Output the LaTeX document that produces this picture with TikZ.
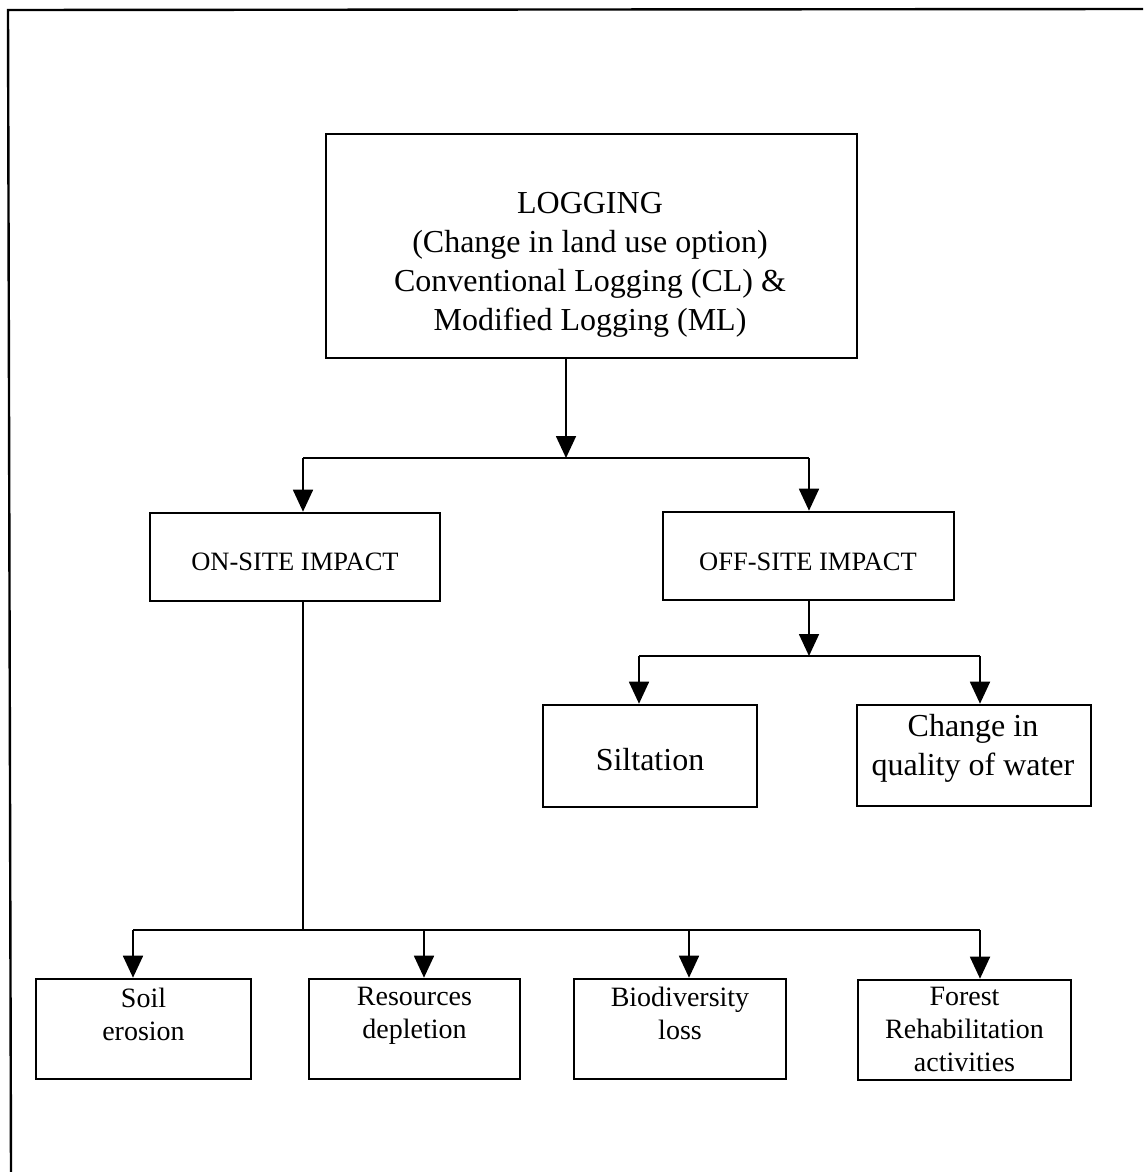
\documentclass[tikz,border=0pt]{standalone}
\usepackage{fontspec}
\setmainfont{Liberation Serif}
\usetikzlibrary{arrows.meta,calc}
\begin{document}
\begin{tikzpicture}[x=1pt,y=-1pt,
  box/.style={draw, line width=2.6pt, rectangle, inner sep=0pt},
  conn/.style={line width=1.8pt},
  arr/.style={conn, -{Triangle[length=22pt,width=20pt]}},
  bigtxt/.style={align=center, font=\fontsize{32}{39}\selectfont, inner sep=0pt},
  midtxt/.style={align=center, font=\fontsize{26.5}{31}\selectfont, inner sep=0pt},
  smalltxt/.style={align=center, font=\fontsize{28}{33}\selectfont, inner sep=0pt}]
\useasboundingbox (0,0) rectangle (1143,1172);
% outer frame
\draw[line width=2.4pt] (1143,9) -- (8,10) -- (11,1172);
% boxes
\node[box, minimum width=531pt, minimum height=224pt] (main) at (591.5,246) {};
\node[box, minimum width=290pt, minimum height=88pt] (onsite) at (295,557) {};
\node[box, minimum width=291pt, minimum height=88pt] (offsite) at (808.5,556) {};
\node[box, minimum width=214pt, minimum height=102pt] (silt) at (650,756) {};
\node[box, minimum width=234pt, minimum height=101pt] (change) at (974,755.5) {};
\node[box, minimum width=215pt, minimum height=100pt] (soil) at (143.5,1029) {};
\node[box, minimum width=211pt, minimum height=100pt] (res) at (414.5,1029) {};
\node[box, minimum width=212pt, minimum height=100pt] (bio) at (680,1029) {};
\node[box, minimum width=213pt, minimum height=100pt] (forest) at (964.5,1030) {};
% texts
\node[bigtxt] (maintxt) at (590,265) {LOGGING\\(Change in land use option)\\Conventional Logging (CL) \&\\Modified Logging (ML)};
\node[midtxt] (ontxt) at (295,562) {ON-SITE IMPACT};
\node[midtxt] (offtxt) at (808,562) {OFF-SITE IMPACT};
\node[bigtxt] (silttxt) at (650,760) {Siltation};
\node[bigtxt] (changetxt) at (973,748) {Change in\\quality of water};
\node[smalltxt] (soiltxt) at (143.5,1014) {Soil\\erosion};
\node[smalltxt] (restxt) at (414.5,1015.5) {Resources\\depletion};
\node[smalltxt] (biotxt) at (680,1013) {Biodiversity\\loss};
\node[smalltxt] (foresttxt) at (964.5,1029.5) {Forest\\Rehabilitation\\activities};
% junction coordinates
\coordinate (j1) at (566,458);
\coordinate (j1l) at (303,458);
\coordinate (j1r) at (809,458);
\coordinate (j2) at (303,930);
\coordinate (j2a) at (133,930);
\coordinate (j2b) at (424,930);
\coordinate (j2c) at (689,930);
\coordinate (j2d) at (980,930);
\coordinate (j3) at (809,656);
\coordinate (j3l) at (639,656);
\coordinate (j3r) at (980,656);
% connectors
\draw[arr] (main.south -| j1) -- (j1);
\draw[conn] (j1l) -- (j1r);
\draw[arr] (j1l) -- (j1l |- onsite.north);
\draw[arr] (j1r) -- (j1r |- offsite.north);
\draw[conn] (onsite.south -| j2) -- (j2);
\draw[conn] (j2a) -- (j2d);
\draw[arr] (j2a) -- (j2a |- soil.north);
\draw[arr] (j2b) -- (j2b |- res.north);
\draw[arr] (j2c) -- (j2c |- bio.north);
\draw[arr] (j2d) -- (j2d |- forest.north);
\draw[arr] (offsite.south -| j3) -- (j3);
\draw[conn] (j3l) -- (j3r);
\draw[arr] (j3l) -- (j3l |- silt.north);
\draw[arr] (j3r) -- (j3r |- change.north);
\end{tikzpicture}
\end{document}
